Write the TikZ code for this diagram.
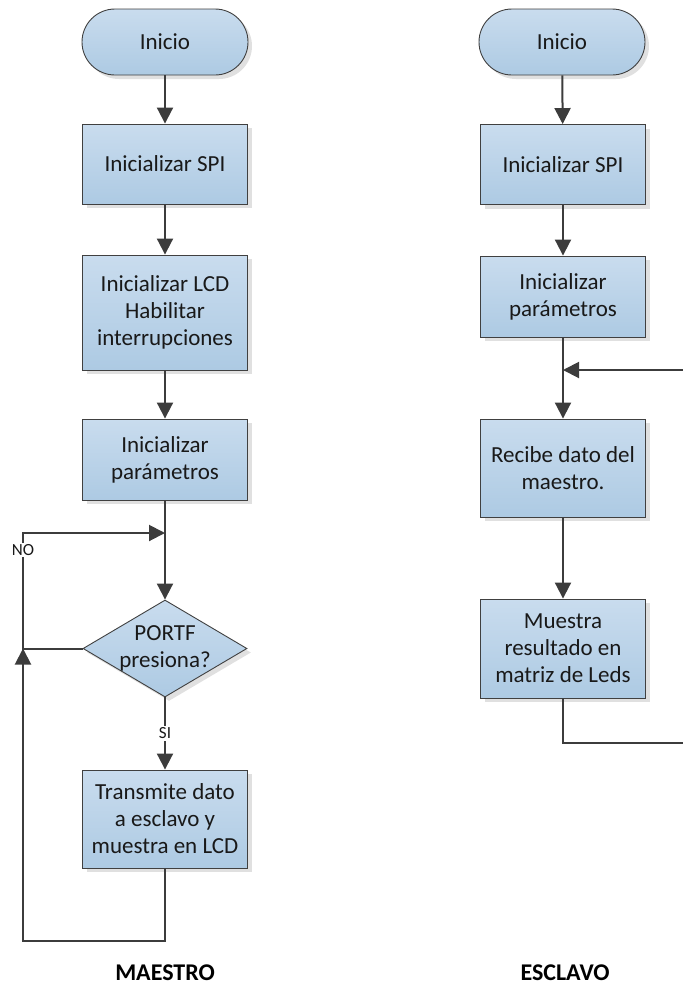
\documentclass[tikz,border=0pt]{standalone}
\usepackage{fontspec}
\setmainfont{Carlito}
\usetikzlibrary{arrows.meta,shapes.geometric,shadows}

\definecolor{boxtop}{HTML}{C9DCEE}
\definecolor{boxbot}{HTML}{ADCAE3}
\definecolor{edge}{HTML}{404040}
\definecolor{wire}{HTML}{3C3C3C}

\begin{document}
\begin{tikzpicture}[x=1pt,y=-1pt,
  base/.style={draw=edge, line width=0.9pt, top color=boxtop, bottom color=boxbot,
    general shadow={fill=black!12, shadow xshift=4pt, shadow yshift=-4pt},
    font=\fontsize{23}{27}\selectfont, align=center, inner sep=0pt, text=black!90},
  proc/.style={base, rectangle, minimum width=165pt},
  term/.style={base, rectangle, rounded corners=33pt, minimum width=166pt, minimum height=66pt},
  decision/.style={base, diamond, minimum width=164pt, minimum height=97pt},
  caption/.style={font=\fontsize{23}{27}\selectfont, align=center, text=black!90},
  flow/.style={draw=wire, line width=2pt, -{Triangle[length=16pt,width=16pt]}},
  tag/.style={fill=white, inner sep=1.5pt, font=\fontsize{17}{20}\selectfont, text=black!90},
  title/.style={font=\fontsize{24}{28}\selectfont\bfseries}
]
\useasboundingbox (0,0) rectangle (683,1005);

% MAESTRO column
\node[term] (startL) at (165,42) {Inicio};
\node[proc, minimum height=80pt] (spiL) at (165,164) {Inicializar SPI};
\node[proc, minimum height=115pt] (lcdL) at (165,312.5) {Inicializar LCD\\Habilitar\\interrupciones};
\node[proc, minimum height=81pt] (parL) at (165,459.5) {Inicializar\\parámetros};
\node[decision] (decL) at (165,648.5) {};
\node[caption] (decT) at (decL.center) {PORTF\\presiona?};
\node[proc, minimum height=98pt] (txL) at (165,819) {Transmite dato\\a esclavo y\\muestra en LCD};

% ESCLAVO column
\node[term] (startR) at (562,42) {Inicio};
\node[proc, minimum height=80pt] (spiR) at (563,164.5) {Inicializar SPI};
\node[proc, minimum height=81pt] (parR) at (563,296.5) {Inicializar\\parámetros};
\node[proc, minimum height=98pt] (recR) at (563,468) {Recibe dato del\\maestro.};
\node[proc, minimum height=99pt] (musR) at (563,648.5) {Muestra\\resultado en\\matriz de Leds};

% bend points of the loops
\coordinate (jL) at (165,533);
\coordinate (nL1) at (23,648.5);
\coordinate (nL2) at (23,533);
\coordinate (bL1) at (165,941);
\coordinate (bL2) at (23,941);
\coordinate (jR) at (563,370);
\coordinate (bR1) at (563,743);
\coordinate (bR2) at (686,743);
\coordinate (bR3) at (686,370);

% MAESTRO connectors
\draw[flow] (startL) -- (spiL);
\draw[flow] (spiL) -- (lcdL);
\draw[flow] (lcdL) -- (parL);
\draw[flow] (parL) -- (decL);
\draw[flow] (decL) -- node[tag] {SI} (txL);
\draw[flow] (decL.west) -- (nL1) -- node[tag, pos=0.85] {NO} (nL2) -- (jL);
\draw[flow] (txL) -- (bL1) -- (bL2) -- (nL1);

% ESCLAVO connectors
\draw[flow] (startR) -- (spiR);
\draw[flow] (spiR) -- (parR);
\draw[flow] (parR) -- (recR);
\draw[flow] (recR) -- (musR);
\draw[flow] (musR) -- (bR1) -- (bR2) -- (bR3) -- (jR);

% column titles
\node[title] (mTitle) at (165,973) {MAESTRO};
\node[title] (eTitle) at (565,973) {ESCLAVO};
\end{tikzpicture}
\end{document}
